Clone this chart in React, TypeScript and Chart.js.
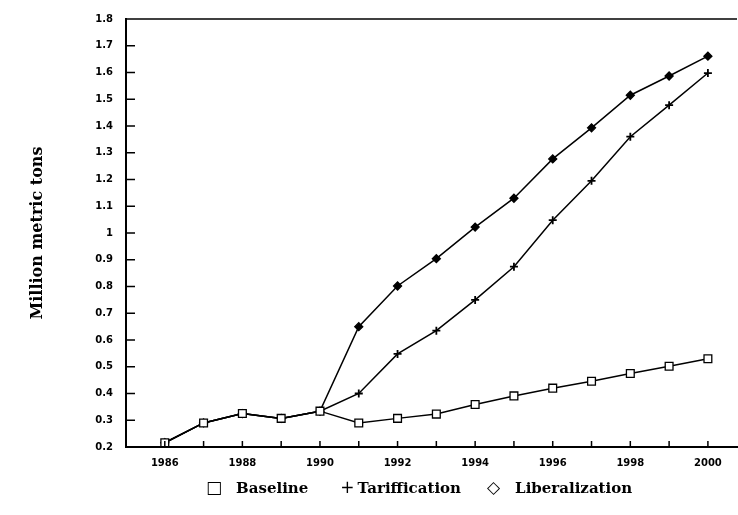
import React, { useEffect, useRef } from "react";
import { Chart, registerables } from "chart.js";

Chart.register(...registerables);

const years = [1986, 1987, 1988, 1989, 1990, 1991, 1992, 1993, 1994, 1995, 1996, 1997, 1998, 1999, 2000];
const baseline = [0.216, 0.29, 0.325, 0.307, 0.334, 0.29, 0.307, 0.323, 0.359, 0.391, 0.42, 0.446, 0.475, 0.502, 0.53];
const tariffication = [0.216, 0.29, 0.325, 0.307, 0.334, 0.4, 0.548, 0.635, 0.75, 0.874, 1.048, 1.195, 1.36, 1.478, 1.598];
const liberalization = [0.216, 0.29, 0.325, 0.307, 0.334, 0.65, 0.802, 0.904, 1.022, 1.13, 1.277, 1.393, 1.515, 1.587, 1.661];
const seriesNames = ["Baseline", "Tariffication", "Liberalization"];
const legendGlyphs = ["□", "+", "◇"];
const yTitle = "Million metric tons";

const axisDecor = {
  id: "axisDecor",
  afterDatasetsDraw(chart: any) {
    const { ctx, chartArea, scales } = chart;
    const xs = scales.x;
    const ys = scales.y;
    ctx.save();
    ctx.strokeStyle = "#000";
    ctx.lineWidth = 1.5;
    ctx.beginPath();
    ys.ticks.forEach((t: any) => {
      const py = ys.getPixelForValue(t.value);
      if (py < chartArea.top + 2 || py > chartArea.bottom - 2) return;
      ctx.moveTo(chartArea.left, py);
      ctx.lineTo(chartArea.left + 9, py);
    });
    xs.ticks.forEach((t: any) => {
      const px = xs.getPixelForValue(t.value);
      if (px < chartArea.left + 2 || px > chartArea.right - 2) return;
      ctx.moveTo(px, chartArea.bottom);
      ctx.lineTo(px, chartArea.bottom - 6);
    });
    ctx.stroke();
    ctx.beginPath();
    ctx.lineWidth = 1.5;
    ctx.moveTo(chartArea.left, chartArea.top);
    ctx.lineTo(chartArea.right, chartArea.top);
    ctx.stroke();
    ctx.restore();
  },
};

export default function App() {
  const ref = useRef<HTMLCanvasElement>(null);
  useEffect(() => {
    document.body.style.margin = "0";
    const canvas = ref.current;
    if (!canvas) return;
    const mk = (vals: number[]) => years.map((y, i) => ({ x: y, y: vals[i] }));
    const common = {
      borderColor: "#000",
      borderWidth: 1.5,
      tension: 0,
      pointBorderColor: "#000",
      pointBorderWidth: 1.3,
      clip: 8,
    };
    const chart = new Chart(canvas, {
      type: "line",
      data: {
        datasets: [
          {
            ...common,
            label: seriesNames[0],
            data: mk(baseline),
            pointStyle: "rect",
            pointRadius: 5.5,
            pointBackgroundColor: "#fff",
          },
          {
            ...common,
            label: seriesNames[1],
            data: mk(tariffication),
            pointStyle: "cross",
            pointRadius: 4,
            pointBorderWidth: 1.8,
            pointBackgroundColor: "#000",
          },
          {
            ...common,
            label: seriesNames[2],
            data: mk(liberalization),
            pointStyle: "rectRot",
            pointRadius: 4,
            pointBackgroundColor: "#000",
          },
        ],
      },
      options: {
        animation: false,
        responsive: false,
        devicePixelRatio: 1,
        layout: { autoPadding: false, padding: { top: 15, right: 1, left: 0, bottom: 1 } },
        plugins: {
          tooltip: { enabled: false },
          legend: { display: false },
        },
        scales: {
          x: {
            type: "linear",
            min: 1985,
            max: 2000.75,
            afterFit(s: any) {
              s.height = 30;
              s.paddingLeft = 0;
              s.paddingRight = 0;
            },
            border: { display: true, color: "#000", width: 2 },
            grid: { display: false, drawTicks: false },
            ticks: {
              stepSize: 1,
              includeBounds: false,
              autoSkip: false,
              maxRotation: 0,
              padding: 10,
              color: "#000",
              font: { family: "DejaVu Sans", size: 10, weight: "bold" },
              callback: (v: any) => (Number(v) % 2 === 0 ? String(v) : ""),
            },
          },
          y: {
            type: "linear",
            min: 0.2,
            max: 1.8,
            afterFit(s: any) {
              s.width = 126;
            },
            border: { display: true, color: "#000", width: 2 },
            grid: { display: false, drawTicks: false },
            ticks: {
              stepSize: 0.1,
              padding: 13,
              color: "#000",
              font: { family: "DejaVu Sans", size: 10, weight: "bold" },
              callback: (v: any) => String(Math.round(Number(v) * 10) / 10),
            },
            title: {
              display: true,
              text: yTitle,
              color: "#000",
              font: { family: "DejaVu Serif", size: 16, weight: "bold" },
              padding: { top: 28, bottom: 0 },
            },
          },
        },
      },
      plugins: [axisDecor],
    } as any);
    return () => chart.destroy();
  }, []);

  const textStyle: React.CSSProperties = {
    fontFamily: "DejaVu Serif",
    fontWeight: "bold",
    fontSize: 15,
  };
  const glyphStyle: React.CSSProperties = {
    fontFamily: "DejaVu Sans",
    fontSize: 17,
  };
  const gaps = [14, 3, 15];
  const afterGaps = [32, 26, 0];

  return (
    <div style={{ position: "relative", width: 738, height: 515 }}>
      <canvas ref={ref} width={738} height={478} style={{ display: "block" }} />
      <div
        style={{
          position: "absolute",
          top: 476,
          left: 206,
          whiteSpace: "nowrap",
          color: "#000",
          lineHeight: "22px",
        }}
      >
        {seriesNames.map((name, i) => (
          <span key={name} style={{ marginRight: afterGaps[i] }}>
            <span style={{ ...glyphStyle, marginRight: gaps[i] }}>{legendGlyphs[i]}</span>
            <span style={textStyle}>{name}</span>
          </span>
        ))}
      </div>
    </div>
  );
}
